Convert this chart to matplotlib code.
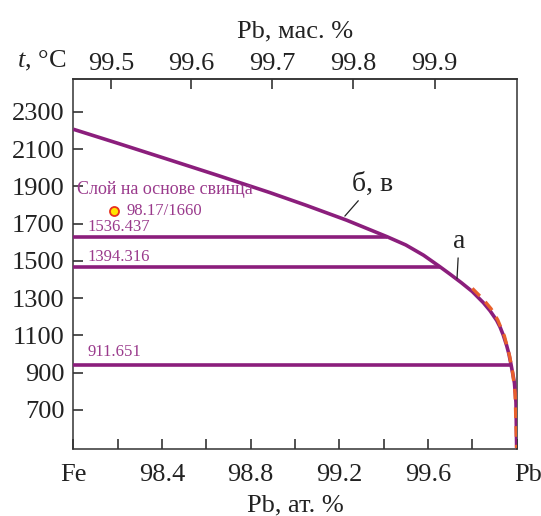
import numpy as np
import matplotlib
matplotlib.use("Agg")
import matplotlib.pyplot as plt

plt.rcParams['font.family'] = ['Liberation Serif', 'DejaVu Serif']
plt.rcParams['mathtext.fontset'] = 'custom'
plt.rcParams['mathtext.it'] = 'Liberation Serif:italic'
plt.rcParams['mathtext.rm'] = 'Liberation Serif'

# liquidus curve (Pb at.%, t °C)
curve_at = [98.0, 98.2, 98.436, 98.65, 98.887, 99.05, 99.233, 99.416, 99.50,
            99.58, 99.654, 99.70, 99.75, 99.80, 99.85, 99.88, 99.91, 99.925,
            99.94, 99.955, 99.965, 99.975, 99.99, 99.997, 100.0]
curve_t = [2206, 2131, 2041, 1959, 1866, 1798, 1718, 1629, 1585,
           1530, 1468, 1428, 1383, 1335, 1275, 1232, 1180, 1145,
           1100, 1045, 1000, 941, 845, 740, 495]

# dashed orange curve (second calculation), near the Pb corner
dash_at = [99.80, 99.85, 99.885, 99.915, 99.945, 99.968, 99.982, 99.993, 100.0]
dash_t = [1352, 1292, 1242, 1182, 1095, 990, 900, 790, 495]

# horizontal lines of Fe transformations
iso_t = [1628, 1467, 941]
iso_end = [99.416, 99.654, 99.975]
iso_labels = ['1536.437', '1394.316', '911.651']
iso_label_t = [1683, 1522, 1012]

point_at, point_t = 98.185, 1769
point_label = '98.17/1660'

bottom_ticks = [98.0, 98.2, 98.4, 98.6, 98.8, 99.0, 99.2, 99.4, 99.6, 99.8, 100.0]
bottom_labels = ['Fe', '', '98.4', '', '98.8', '', '99.2', '', '99.6', '', '']
top_wt = [99.5, 99.6, 99.7, 99.8, 99.9]
y_ticks = [700, 900, 1100, 1300, 1500, 1700, 1900, 2100, 2300]

purple = '#8B1E7C'
text_purple = '#9A3A8C'
orange = '#E8602C'
ink = '#222222'
fs = 19


def wt_to_at(w):
    # mass % Pb -> atomic % Pb for the Fe-Pb pair
    pb = w / 207.2
    fe = (100 - w) / 55.845
    return 100 * pb / (pb + fe)


fig = plt.figure(figsize=(5.41, 5.16), dpi=100)
ax = fig.add_axes([0.1355, 0.1298, 0.955 - 0.1355, 0.8463 - 0.1298])

ax.plot(curve_at, curve_t, color=purple, lw=2.6, solid_capstyle='butt',
        solid_joinstyle='round', zorder=3)
ax.plot(dash_at, dash_t, color=orange, lw=2.4, dashes=(3.2, 2.4), zorder=4)

for t, xe in zip(iso_t, iso_end):
    ax.plot([98.0, xe], [t, t], color=purple, lw=2.6, solid_capstyle='butt', zorder=3)
for lab, t in zip(iso_labels, iso_label_t):
    ax.text(98.063, t, lab, color=text_purple, fontsize=12, va='center', ha='left')

ax.text(98.017, 1885, 'Слой на основе свинца', color=text_purple, fontsize=13,
        va='center', ha='left')
ax.plot([point_at], [point_t], 'o', ms=6.5, mfc='#FFE500', mec='#E8301E', mew=1.3, zorder=5)
ax.text(98.241, point_t, point_label, color=text_purple, fontsize=12, va='center', ha='left')

ax.annotate('б, в', xy=(99.225, 1740), xytext=(99.35, 1910), fontsize=20,
            ha='center', va='center', color=ink,
            arrowprops=dict(arrowstyle='-', color=ink, lw=0.9, shrinkA=1, shrinkB=0))
ax.annotate('а', xy=(99.731, 1405), xytext=(99.740, 1605), fontsize=20,
            ha='center', va='center', color=ink,
            arrowprops=dict(arrowstyle='-', color=ink, lw=0.9, shrinkA=1, shrinkB=0))

ax.set_xlim(98.0, 100.0)
ax.set_ylim(490, 2474)

ax.set_xticks(bottom_ticks)
ax.set_xticklabels(bottom_labels)
ax.set_yticks(y_ticks)
ax.tick_params(axis='both', direction='in', length=7, width=1.1, labelsize=fs,
               colors=ink)
ax.tick_params(axis='x', pad=11)
ax.tick_params(axis='y', pad=6.5)
ax.annotate('Pb', xy=(100.0, 0), xycoords=('data', 'axes fraction'),
            xytext=(-2, -11), textcoords='offset points', fontsize=fs,
            ha='left', va='top', color=ink)

top = ax.secondary_xaxis('top', functions=(lambda x: x, lambda x: x))
top.set_xticks([wt_to_at(w) for w in top_wt])
top.set_xticklabels([f'{w:.1f}' for w in top_wt])
top.tick_params(direction='in', length=7, width=1.1, labelsize=fs, pad=3,
                colors=ink)
top.set_xlabel('Pb, мас. %', fontsize=fs, labelpad=11, color=ink)
top.spines['top'].set_linewidth(1.1)
top.spines['top'].set_color('#333333')

ax.set_xlabel('Pb, ат. %', fontsize=fs, labelpad=6, color=ink)
ax.text(-0.016, 1.0495, '$t$, °C', transform=ax.transAxes, fontsize=fs,
        ha='right', va='center', color=ink)

for s in ax.spines.values():
    s.set_linewidth(1.1)
    s.set_color('#333333')

fig.savefig('out.png', dpi=100)
